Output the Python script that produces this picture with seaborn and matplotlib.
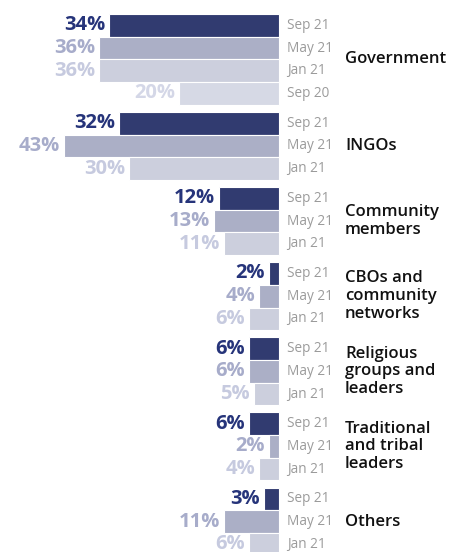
import numpy as np
import pandas as pd
import matplotlib.pyplot as plt
import seaborn as sns

# data
groups = ["Government", "INGOs", "Community\nmembers", "CBOs and\ncommunity\nnetworks",
          "Religious\ngroups and\nleaders", "Traditional\nand tribal\nleaders", "Others"]
rounds = ["Sep 21", "May 21", "Jan 21", "Sep 20"]
sep21 = [34, 32, 12, 2, 6, 6, 3]
may21 = [36, 43, 13, 4, 6, 2, 11]
jan21 = [36, 30, 11, 6, 5, 4, 6]
sep20 = [20, None, None, None, None, None, None]

bar_colors = {"Sep 21": "#26347a", "May 21": "#a7acca", "Jan 21": "#c9cde0", "Sep 20": "#d4d7e7"}
label_colors = {"Sep 21": "#26347a", "May 21": "#a7acca", "Jan 21": "#c6cadf", "Sep 20": "#d4d7e7"}

sns.set_theme(style="white")
plt.rcParams['font.family'] = ['Open Sans', 'DejaVu Sans']

# build long table, one row per bar, with a y position per bar
group_gap = 0.31
rows = []
pos = 0.0
for i, g in enumerate(groups):
    for r, vals in zip(rounds, [sep21, may21, jan21, sep20]):
        if vals[i] is None:
            continue
        rows.append({"group": g, "round": r, "value": vals[i], "ypos": pos})
        pos += 1
    pos += group_gap
df = pd.DataFrame(rows)

fig = plt.figure(figsize=(4.51, 5.52), dpi=100)
ax = fig.add_axes([0, 0, 1, 1])

sns.barplot(data=df, x="value", y="ypos", hue="round", palette=bar_colors,
            orient="h", native_scale=True, dodge=False, width=1,
            edgecolor="white", linewidth=0.8, legend=False, ax=ax)

# value labels and round labels
for _, row in df.iterrows():
    ax.text(row["value"] + 0.8, row["ypos"], f"{row['value']}%", ha="right", va="center",
            fontsize=14.5, fontweight="bold", color=label_colors[row["round"]])
    ax.text(-1.6, row["ypos"], row["round"], ha="left", va="center",
            fontsize=9.8, color="#9b9b9b")

# group names
for g in groups:
    ymid = df.loc[df["group"] == g, "ypos"].mean()
    ax.text(-13.2, ymid, g, ha="left", va="center", fontsize=12,
            fontweight="semibold", color="#111111", linespacing=1.15)

ax.set_xlim(55.8, -34.4)
ax.set_ylim(23.2, -1.117)
ax.axis("off")

plt.savefig("out.png", dpi=100)
